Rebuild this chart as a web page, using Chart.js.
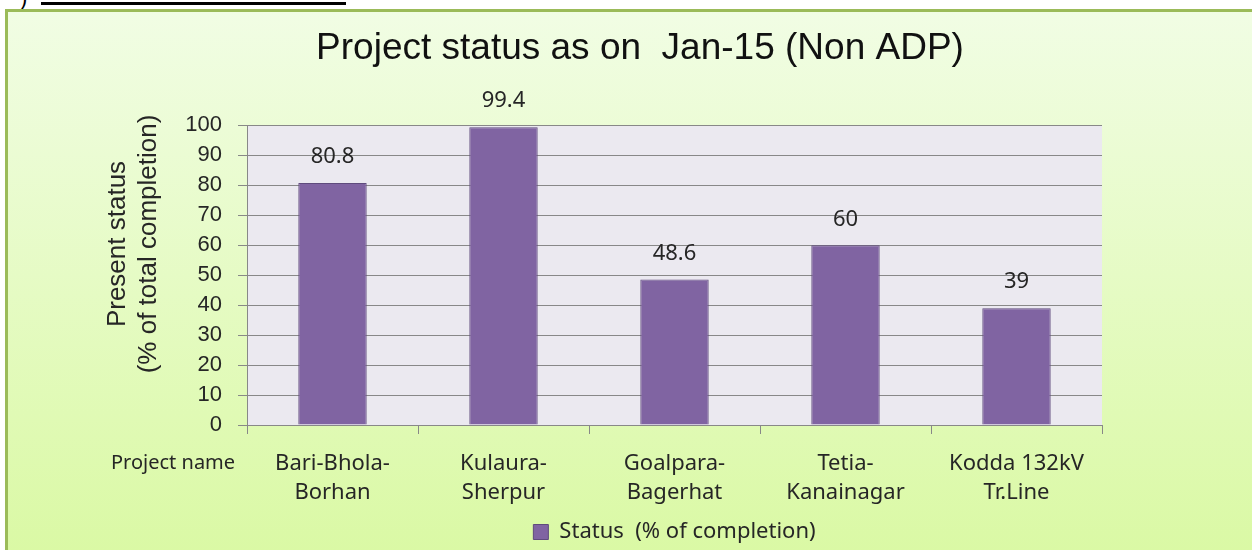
<!DOCTYPE html>
<html>
<head>
<meta charset="utf-8">
<title>Project status as on Jan-15 (Non ADP)</title>
<script src="https://cdn.jsdelivr.net/npm/chart.js@4.4.1/dist/chart.umd.min.js"></script>
<style>
  html, body { margin: 0; padding: 0; width: 1252px; height: 550px; overflow: hidden; background: #fff; }
  #paren { position: absolute; left: 20px; top: -15px; font: 22px "Liberation Sans", Arial, sans-serif; color: #000; }
  #rule { position: absolute; left: 41px; top: 2px; width: 305px; height: 3px; background: #000; }
  #frame {
    position: absolute; left: 5px; top: 9px; width: 1300px; height: 600px;
    box-sizing: border-box; border: 3px solid #9bbb59;
    background: linear-gradient(#f1fde4, #daf9a4 545px);
  }
  #chart-wrapper { position: absolute; left: 5px; top: 0; width: 1270px; height: 560px; }
</style>
</head>
<body>
<div id="paren">)</div>
<div id="rule"></div>
<div id="frame"></div>
<div id="chart-wrapper"><canvas id="chart"></canvas></div>
<script>
// chart data
const categories = [
  ['Bari-Bhola-', 'Borhan'],
  ['Kulaura-', 'Sherpur'],
  ['Goalpara-', 'Bagerhat'],
  ['Tetia-', 'Kanainagar'],
  ['Kodda 132kV', 'Tr.Line'],
];
const completion = [80.8, 99.4, 48.6, 60, 39];
const yMin = 0;
const yMax = 100;
const yStep = 10;

const chartTitle = 'Project status as on  Jan-15 (Non ADP)';
const yTitle = ['Present status', '(% of total completion)'];
const xTitle = 'Project name';
const seriesName = 'Status  (% of completion)';

const ARIAL = '"Liberation Sans", Arial, sans-serif';
const BODY = '"Noto Sans", "Open Sans", sans-serif';
const TEXT = '#262626';
const GRID = '#888888';

// plot area background
const plotBackground = {
  id: 'plotBackground',
  beforeDraw(chart) {
    const { ctx, chartArea: a } = chart;
    ctx.save();
    ctx.fillStyle = '#ebe9f0';
    ctx.fillRect(a.left, a.top, a.right - a.left, a.bottom - a.top);
    ctx.restore();
  },
};

// value above each bar
const barLabels = {
  id: 'barLabels',
  afterDatasetsDraw(chart) {
    const { ctx } = chart;
    const meta = chart.getDatasetMeta(0);
    ctx.save();
    ctx.font = '22px ' + BODY;
    ctx.fillStyle = TEXT;
    ctx.textAlign = 'center';
    ctx.textBaseline = 'middle';
    meta.data.forEach((bar, i) => {
      ctx.fillText(String(completion[i]), bar.x, bar.y - 26);
    });
    ctx.restore();
  },
};

// y title sits a bit above the plot centre and "Project name" left of the labels
const axisTitles = {
  id: 'axisTitles',
  afterDraw(chart) {
    const { ctx } = chart;
    ctx.save();
    ctx.fillStyle = TEXT;
    ctx.font = '26px ' + ARIAL;
    ctx.textAlign = 'center';
    ctx.textBaseline = 'middle';
    ctx.translate(0, 244);
    ctx.rotate(-Math.PI / 2);
    ctx.fillText(yTitle[0], 0, 113);
    ctx.fillText(yTitle[1], 0, 144);
    ctx.restore();

    ctx.save();
    ctx.fillStyle = TEXT;
    ctx.font = '20px ' + BODY;
    ctx.textAlign = 'left';
    ctx.textBaseline = 'middle';
    ctx.fillText(xTitle, 106, 463);
    ctx.restore();
  },
};

new Chart(document.getElementById('chart'), {
  type: 'bar',
  data: {
    labels: categories,
    datasets: [
      {
        label: seriesName,
        data: completion,
        backgroundColor: '#8064a2',
        borderColor: '#5f4b7d',
        borderWidth: 1,
        barPercentage: 0.4,
        categoryPercentage: 1,
      },
    ],
  },
  options: {
    responsive: true,
    maintainAspectRatio: false,
    animation: false,
    layout: { padding: { top: 0, left: 0, right: 0, bottom: 7 } },
    plugins: {
      title: {
        display: true,
        text: chartTitle,
        color: '#111',
        font: { family: ARIAL, size: 37, weight: 'normal' },
        padding: { top: 27, bottom: 54 },
      },
      legend: {
        position: 'bottom',
        fullSize: false,
        labels: {
          color: TEXT,
          font: { family: BODY, size: 22 },
          boxWidth: 15,
          boxHeight: 15,
          padding: 8,
        },
      },
      tooltip: { enabled: false },
    },
    scales: {
      x: {
        grid: { drawOnChartArea: false, color: GRID, tickLength: 9, offset: true },
        border: { color: GRID },
        ticks: {
          color: TEXT,
          font: { family: BODY, size: 22, lineHeight: 1.32 },
          padding: 15,
          maxRotation: 0,
          autoSkip: false,
        },
        afterFit(scale) {
          scale.height = 88;
        },
      },
      y: {
        min: yMin,
        max: yMax,
        grid: { color: GRID, tickLength: 9 },
        border: { color: GRID },
        ticks: {
          stepSize: yStep,
          color: TEXT,
          font: { family: ARIAL, size: 22 },
          padding: 16,
        },
        afterFit(scale) {
          scale.width = 242;
        },
      },
      // empty space to the right of the plot, keeps the title centred on the whole frame
      spacer: {
        position: 'right',
        min: yMin,
        max: yMax,
        grid: { display: false },
        border: { display: false },
        ticks: { display: false },
        afterFit(scale) {
          scale.width = 173;
        },
      },
    },
  },
  plugins: [plotBackground, barLabels, axisTitles],
});
</script>
</body>
</html>
